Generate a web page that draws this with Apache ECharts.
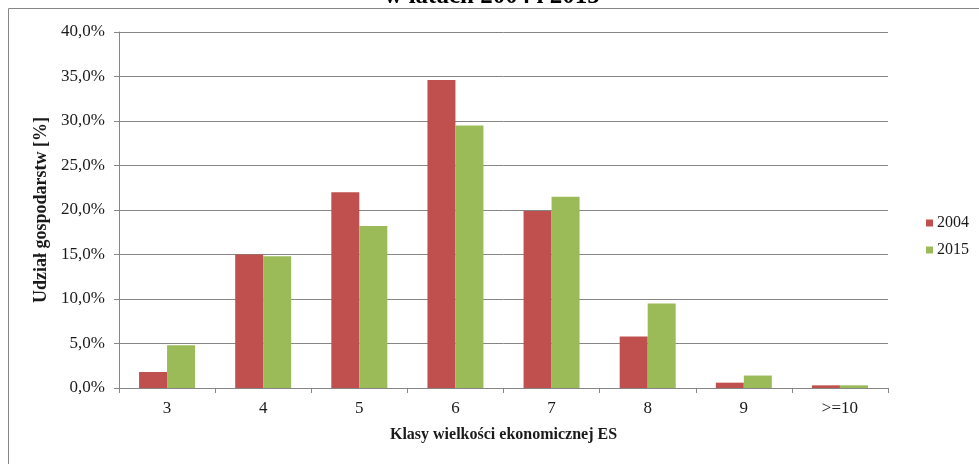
<!DOCTYPE html>
<html>
<head>
<meta charset="utf-8">
<script src="https://cdn.jsdelivr.net/npm/echarts@6/dist/echarts.min.js"></script>
<style>html,body{margin:0;padding:0;background:#fff;}#c{width:979px;height:464px;}</style>
</head>
<body>
<div id="c"></div>
<script>
const categories = ['3', '4', '5', '6', '7', '8', '9', '>=10'];
const values2004 = [1.8, 15.0, 22.0, 34.6, 19.9, 5.8, 0.6, 0.3];
const values2015 = [4.8, 14.8, 18.2, 29.5, 21.5, 9.5, 1.4, 0.3];
const seriesNames = ['2004', '2015'];
const titleText = 'w latach 2004 i 2015';

const font = '"Liberation Serif", "Times New Roman", serif';
const axisColor = '#868686';
const textColor = '#1a1a1a';
const chart = echarts.init(document.getElementById('c'), null, {renderer: 'canvas'});
chart.setOption({
  animation: false,
  textStyle: {fontFamily: font},
  graphic: [
    {type: 'rect', shape: {x: 8.5, y: 8.5, width: 1200, height: 1000}, style: {fill: 'none', stroke: axisColor, lineWidth: 1}, silent: true},
    {type: 'text', x: 492, y: 9, style: {text: titleText, font: 'bold 25px ' + font, fill: '#000', align: 'center', verticalAlign: 'bottom'}, silent: true}
  ],
  grid: {left: 119, right: 91, top: 32, bottom: 76},
  legend: {
    orient: 'vertical', left: 921, top: 210, itemWidth: 7, itemHeight: 7, itemGap: 11,
    icon: 'rect', data: seriesNames,
    textStyle: {fontFamily: font, fontSize: 16, color: textColor, padding: [0, 0, 0, -1]}
  },
  xAxis: {
    type: 'category', data: categories,
    axisLine: {lineStyle: {color: axisColor}},
    axisTick: {show: true, length: 5, alignWithLabel: false, lineStyle: {color: axisColor}},
    axisLabel: {fontFamily: font, fontSize: 17, color: textColor, margin: 12},
    name: 'Klasy wielkości ekonomicznej ES', nameLocation: 'middle', nameGap: 39,
    nameTextStyle: {fontFamily: font, fontSize: 16, fontWeight: 'bold', color: textColor}
  },
  yAxis: {
    type: 'value', min: 0, max: 40, interval: 5,
    axisLine: {show: true, lineStyle: {color: axisColor}},
    axisTick: {show: true, length: 5, inside: false, lineStyle: {color: axisColor}},
    splitLine: {lineStyle: {color: axisColor}},
    axisLabel: {fontFamily: font, fontSize: 17, color: textColor, margin: 14,
      formatter: v => v.toFixed(1).replace('.', ',') + '%'},
    name: 'Udział gospodarstw [%]', nameLocation: 'middle', nameGap: 65, nameRotate: 90,
    nameTextStyle: {fontFamily: font, fontSize: 18, fontWeight: 'bold', color: textColor}
  },
  series: [
    {name: seriesNames[0], type: 'bar', data: values2004, barWidth: 28, barGap: '0%', itemStyle: {color: '#C0504D'}},
    {name: seriesNames[1], type: 'bar', data: values2015, barWidth: 28, barGap: '0%', itemStyle: {color: '#9BBB59'}}
  ]
});
</script>
</body>
</html>
